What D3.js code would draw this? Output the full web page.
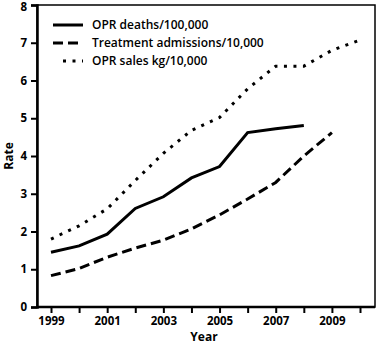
<!DOCTYPE html>
<html>
<head>
<meta charset="utf-8">
<script src="https://cdn.jsdelivr.net/npm/d3@7"></script>
<style>
  body { margin: 0; background: #fff; }
  text { font-family: "Open Sans", sans-serif; fill: #000; }
</style>
</head>
<body>
<div id="graph"></div>
<script>
var years = d3.range(1999, 2011)
var tickLabelYears = [1999, 2001, 2003, 2005, 2007, 2009]
var rateTicks = [0, 1, 2, 3, 4, 5, 6, 7, 8]

var deaths = [1.45, 1.62, 1.93, 2.61, 2.92, 3.42, 3.72, 4.62, 4.72, 4.81]
var admissions = [0.83, 1.02, 1.32, 1.56, 1.77, 2.07, 2.44, 2.86, 3.3, 4.0, 4.62]
var sales = [1.8, 2.15, 2.6, 3.35, 4.07, 4.68, 5.02, 5.78, 6.38, 6.38, 6.8, 7.07]

var series = [
  {name: 'OPR deaths/100,000', values: deaths, dash: null},
  {name: 'Treatment admissions/10,000', values: admissions, dash: '10,5'},
  {name: 'OPR sales kg/10,000', values: sales, dash: '3,6.5'},
]

var width = 379, height = 344
var plotLeft = 37, plotRight = 375, plotTop = 5, plotBottom = 307

var svg = d3.select('#graph').append('svg')
  .attr('width', width).attr('height', height)

var x = d3.scaleLinear().domain([1999, 2010]).range([51, 360])
var y = d3.scaleLinear().domain([0, 8]).range([plotBottom, plotTop])

// frame
svg.append('rect')
  .attr('x', plotLeft).attr('y', plotTop)
  .attr('width', plotRight - plotLeft).attr('height', plotBottom - plotTop)
  .attr('fill', 'none').attr('stroke', '#000').attr('stroke-width', 1.5)

var yAxis = svg.append('g')
  .attr('transform', `translate(${plotLeft},0)`)
  .call(d3.axisLeft(y).tickValues(rateTicks).tickFormat(d3.format('d')).tickSize(6).tickPadding(4))
yAxis.select('.domain').attr('stroke-width', 2.5)
yAxis.selectAll('.tick line').attr('stroke-width', 2)
yAxis.selectAll('text').style('font-size', '11.5px').style('font-weight', 700)
  .attr('dy', d => d == 8 ? '0.45em' : '0.32em')

var xAxis = svg.append('g')
  .attr('transform', `translate(0,${plotBottom})`)
  .call(d3.axisBottom(x).tickValues(years)
    .tickFormat(d => tickLabelYears.includes(d) ? d : '')
    .tickSize(6).tickPadding(4))
xAxis.select('.domain').attr('d', `M${plotLeft},0H${plotRight}`).attr('stroke-width', 2.5)
xAxis.selectAll('.tick line').attr('stroke-width', 2)
xAxis.selectAll('text').style('font-size', '11.5px').style('font-weight', 700)

svg.append('text')
  .attr('x', 204).attr('y', 341)
  .attr('text-anchor', 'middle')
  .style('font-size', '12px').style('font-weight', 700)
  .text('Year')

svg.append('text')
  .attr('transform', 'translate(13,156) rotate(-90)')
  .attr('text-anchor', 'middle')
  .style('font-size', '12px').style('font-weight', 700)
  .text('Rate')

var line = d3.line().x((d, i) => x(1999 + i)).y(d => y(d))

svg.selectAll('path.series').data(series).enter().append('path')
  .attr('class', 'series')
  .attr('d', d => line(d.values))
  .attr('fill', 'none')
  .attr('stroke', '#000')
  .attr('stroke-width', 3)
  .attr('stroke-dasharray', d => d.dash)

// legend
var legend = svg.selectAll('g.legend').data(series).enter().append('g')
  .attr('class', 'legend')
  .attr('transform', (d, i) => `translate(53,${[25, 43, 61][i]})`)

legend.append('line')
  .attr('x1', d => d.dash == '3,6.5' ? 10 : 0).attr('x2', 30)
  .attr('stroke', '#000').attr('stroke-width', 3)
  .attr('stroke-dasharray', d => d.dash)

legend.append('text')
  .attr('x', 39).attr('dy', '0.35em')
  .style('font-size', '12px').style('font-weight', 600)
  .text(d => d.name)
</script>
</body>
</html>
